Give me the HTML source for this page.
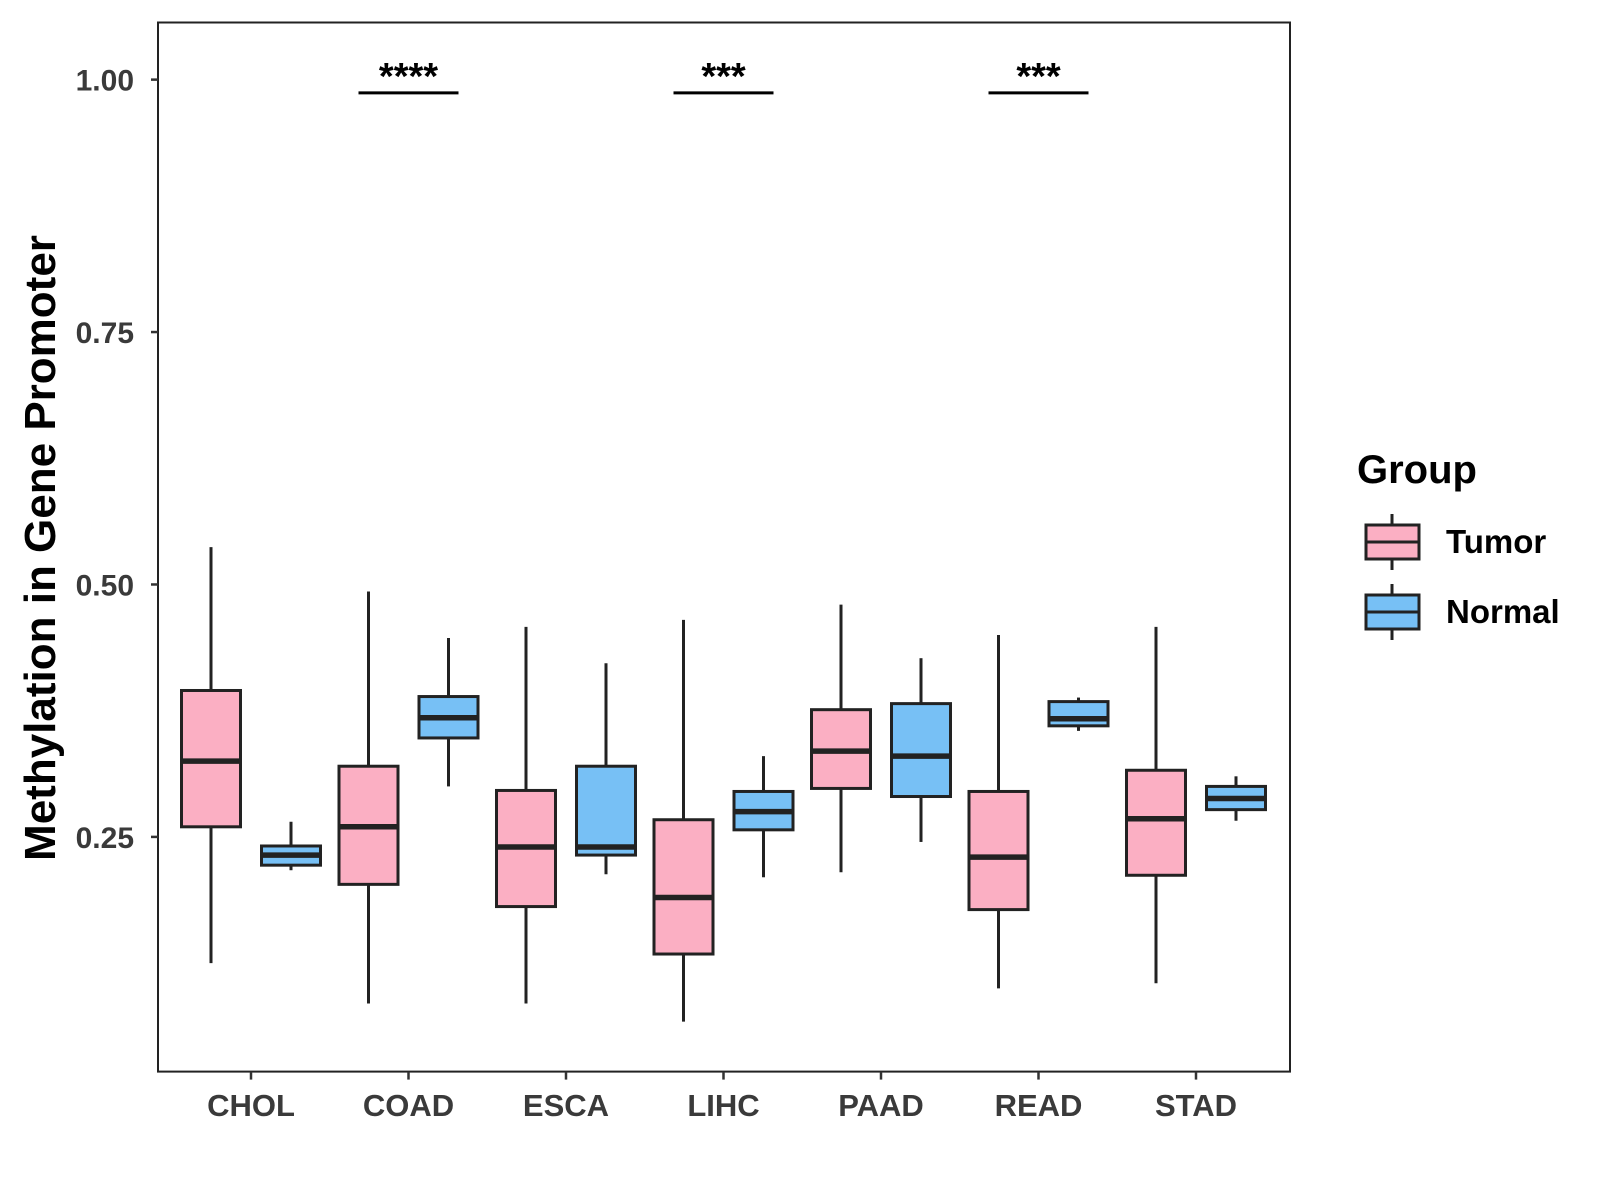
<!DOCTYPE html>
<html><head><meta charset="utf-8"><style>body{margin:0;background:#fff}svg{display:block;font-family:"Liberation Sans",Arial,sans-serif}</style></head>
<body>
<svg id="c" width="1600" height="1200"></svg>
<script>
const categories=["CHOL","COAD","ESCA","LIHC","PAAD","READ","STAD"];
const tumorStats=[[0.125,0.26,0.325,0.395,0.537],[0.085,0.203,0.26,0.32,0.493],[0.085,0.181,0.24,0.296,0.458],[0.067,0.134,0.19,0.267,0.465],[0.215,0.298,0.335,0.376,0.48],[0.1,0.178,0.23,0.295,0.45],[0.105,0.212,0.268,0.316,0.458]];
const normalStats=[[0.217,0.222,0.232,0.241,0.265],[0.3,0.348,0.368,0.389,0.447],[0.213,0.232,0.24,0.32,0.422],[0.21,0.257,0.275,0.295,0.33],[0.245,0.29,0.33,0.382,0.427],[0.355,0.36,0.367,0.384,0.388],[0.266,0.277,0.288,0.3,0.31]];
const yTicks=[0.25,0.5,0.75,1.0];
const yTickLabels=["0.25","0.50","0.75","1.00"];
const sigCats=["COAD","LIHC","READ"];
const sigLabels=["****","***","***"];
const L=158,T=22.5,R=1290,B=1071.6;
const y=v=>836.9-(v-0.25)*1009.7;
const x=i=>251+i*157.5;
const svg=document.getElementById('c');
const NS="http://www.w3.org/2000/svg";
function el(t,a,p){const e=document.createElementNS(NS,t);for(const k in a)e.setAttribute(k,a[k]);(p||svg).appendChild(e);return e;}
const frame=el('rect',{x:L,y:T,width:R-L,height:B-T,fill:'none',stroke:'#222','stroke-width':2});


yTicks.forEach((v,i)=>{
 const tk=el('line',{x1:L-7,x2:L,y1:y(v),y2:y(v),stroke:'#333','stroke-width':2.5});
 
 
 const t=el('text',{x:L-24,y:y(v)+11,'text-anchor':'end','font-size':30,'font-weight':'bold',fill:'#3a3a3a'});
 t.textContent=yTickLabels[i];
 
 
});
function box(s,cx,fill,name){
 const g=el('g',{});
 
 
 const w=59;
 el('line',{x1:cx,x2:cx,y1:y(s[4]),y2:y(s[3]),stroke:'#222','stroke-width':3},g);
 el('line',{x1:cx,x2:cx,y1:y(s[1]),y2:y(s[0]),stroke:'#222','stroke-width':3},g);
 el('rect',{x:cx-w/2,y:y(s[3]),width:w,height:y(s[1])-y(s[3]),fill:fill,stroke:'#222','stroke-width':3},g);
 el('line',{x1:cx-w/2,x2:cx+w/2,y1:y(s[2]),y2:y(s[2]),stroke:'#222','stroke-width':5.5},g);
}
categories.forEach((c,i)=>{
 box(tumorStats[i],x(i)-40,'#FBAFC3','box-tumor-'+c.toLowerCase());
 box(normalStats[i],x(i)+40,'#77C0F5','box-normal-'+c.toLowerCase());
 const tk=el('line',{x1:x(i),x2:x(i),y1:B,y2:B+8,stroke:'#333','stroke-width':2.5});
 
 
 const t=el('text',{x:x(i),y:1116,'text-anchor':'middle','font-size':31,'font-weight':'bold',fill:'#3a3a3a'});
 t.textContent=c;
 
 
});
sigCats.forEach((c,j)=>{
 const i=categories.indexOf(c);
 const ln=el('line',{x1:x(i)-50,x2:x(i)+50,y1:92.9,y2:92.9,stroke:'#000','stroke-width':3});
 
 
 const t=el('text',{x:x(i),y:89,'text-anchor':'middle','font-size':38,'font-weight':'bold',fill:'#000'});
 t.textContent=sigLabels[j];
 
 
});
const yt=el('text',{x:0,y:0,transform:'translate(55,548) rotate(-90)','text-anchor':'middle','font-size':44,'font-weight':'bold',fill:'#000'});
yt.textContent='Methylation in Gene Promoter';


const lt=el('text',{x:1357,y:483,'font-size':40,'font-weight':'bold',fill:'#000'});
lt.textContent='Group';


[['Tumor','#FBAFC3',542],['Normal','#77C0F5',612]].forEach(([n,f,cy])=>{
 const g=el('g',{});
 
 
 el('line',{x1:1392,x2:1392,y1:cy-28,y2:cy+28,stroke:'#222','stroke-width':3},g);
 el('rect',{x:1366,y:cy-17,width:53,height:34,fill:f,stroke:'#222','stroke-width':3},g);
 el('line',{x1:1366,x2:1419,y1:cy,y2:cy,stroke:'#222','stroke-width':3},g);
 const t=el('text',{x:1446,y:cy+11,'font-size':33,'font-weight':'bold',fill:'#000'},g);
 t.textContent=n;
});
</script>
</body></html>
